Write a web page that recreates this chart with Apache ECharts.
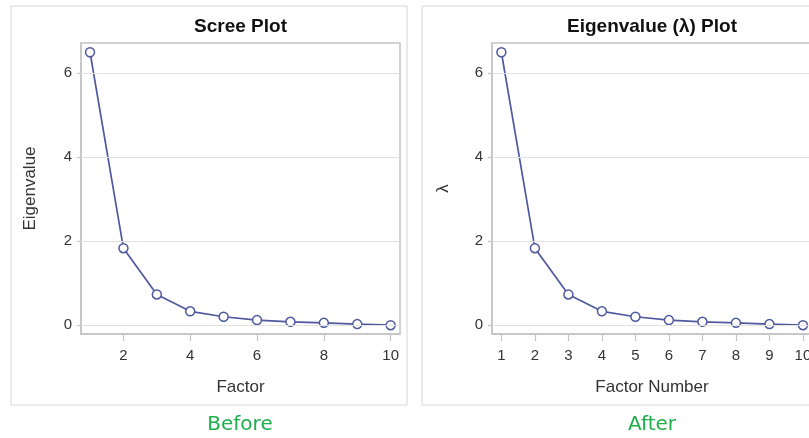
<!DOCTYPE html>
<html>
<head>
<meta charset="utf-8">
<script src="https://cdn.jsdelivr.net/npm/echarts@6/dist/echarts.min.js"></script>
<style>
html,body{margin:0;padding:0;width:809px;height:438px;overflow:hidden;background:#fff;}
#c{width:840px;height:438px;}
</style>
</head>
<body>
<div id="c"></div>
<script>
// Data
const factors = [1, 2, 3, 4, 5, 6, 7, 8, 9, 10];
const eigenvalues = [6.49, 1.83, 0.73, 0.33, 0.20, 0.12, 0.08, 0.055, 0.025, 0.0];
const yTicks = [0, 2, 4, 6];
const xTicksBefore = [2, 4, 6, 8, 10];
const xTicksAfter = [1, 2, 3, 4, 5, 6, 7, 8, 9, 10];
const titles = ['Scree Plot', 'Eigenvalue (λ) Plot'];
const xNames = ['Factor', 'Factor Number'];
const yNames = ['Eigenvalue', 'λ'];
const captions = ['Before', 'After'];

const pts = factors.map((f, i) => [f, eigenvalues[i]]);
const LINE = '#4f599f';
const FRAME = '#c4c4c4';
const FONT = 'Liberation Sans, Arial, sans-serif';

const grids = [
  {left: 81, top: 43, width: 319, height: 291},
  {left: 492, top: 43, width: 320, height: 291}
];
const xRanges = [[0.73, 10.28], [0.72, 10.27]];
const xTickSets = [xTicksBefore, xTicksAfter];

function xAxis(i) {
  return {
    type: 'value', gridIndex: i, min: xRanges[i][0], max: xRanges[i][1],
    name: xNames[i], nameLocation: 'middle', nameGap: 45,
    nameTextStyle: {fontFamily: FONT, fontSize: 17, color: '#333'},
    axisLine: {show: true, onZero: false, lineStyle: {color: FRAME, width: 1.5}},
    axisTick: {show: true, inside: false, customValues: xTickSets[i], length: 7, lineStyle: {color: FRAME, width: 1.2}},
    axisLabel: {customValues: xTickSets[i], margin: 14, fontFamily: FONT, fontSize: 15, color: '#333'},
    splitLine: {show: false}
  };
}
function yAxis(i) {
  return {
    type: 'value', gridIndex: i, min: -0.21, max: 6.71,
    name: yNames[i], nameLocation: 'middle', nameGap: i === 0 ? 42 : 40,
    nameTextStyle: {fontFamily: FONT, fontSize: 17, color: '#333'},
    axisLine: {show: true, onZero: false, lineStyle: {color: FRAME, width: 1.5}},
    axisTick: {show: true, inside: false, customValues: yTicks, length: 4, lineStyle: {color: FRAME, width: 1.2}},
    axisLabel: {customValues: yTicks, margin: 9, fontFamily: FONT, fontSize: 15, color: '#333'},
    splitLine: {show: false}
  };
}
function series(i) {
  return {
    type: 'line', xAxisIndex: i, yAxisIndex: i, data: pts,
    symbol: 'circle', symbolSize: 9, showAllSymbol: true,
    lineStyle: {color: LINE, width: 1.7},
    itemStyle: {color: '#ffffff', borderColor: LINE, borderWidth: 1.5},
    emphasis: {disabled: true},
    markLine: {
      silent: true, symbol: 'none', label: {show: false},
      lineStyle: {color: '#e2e2e2', width: 1, type: 'solid'},
      data: yTicks.map(v => ({yAxis: v})),
      animation: false
    },
    z: 3
  };
}

const chart = echarts.init(document.getElementById('c'), null, {renderer: 'canvas'});
chart.setOption({
  animation: false,
  backgroundColor: '#fff',
  grid: grids.map(g => Object.assign({show: true, borderColor: FRAME, borderWidth: 1.5, backgroundColor: 'transparent'}, g)),
  xAxis: [xAxis(0), xAxis(1)],
  yAxis: [yAxis(0), yAxis(1)],
  series: [series(0), series(1)],
  graphic: [
    {type: 'rect', shape: {x: 11, y: 6, width: 396, height: 399}, style: {fill: 'none', stroke: '#d6d6d6', lineWidth: 1}, z: -1},
    {type: 'rect', shape: {x: 422, y: 6, width: 420, height: 399}, style: {fill: 'none', stroke: '#d6d6d6', lineWidth: 1}, z: -1},
    {type: 'text', x: 240.5, y: 27, style: {text: titles[0], font: 'bold 19px ' + FONT, fill: '#111', textAlign: 'center', textVerticalAlign: 'middle'}},
    {type: 'text', x: 652, y: 27, style: {text: titles[1], font: 'bold 19px ' + FONT, fill: '#111', textAlign: 'center', textVerticalAlign: 'middle'}},
    {type: 'text', x: 240, y: 425, style: {text: captions[0], font: '20px DejaVu Sans, sans-serif', fill: '#1fae4c', textAlign: 'center', textVerticalAlign: 'middle'}},
    {type: 'text', x: 652, y: 425, style: {text: captions[1], font: '20px DejaVu Sans, sans-serif', fill: '#1fae4c', textAlign: 'center', textVerticalAlign: 'middle'}}
  ]
});
</script>
</body>
</html>
